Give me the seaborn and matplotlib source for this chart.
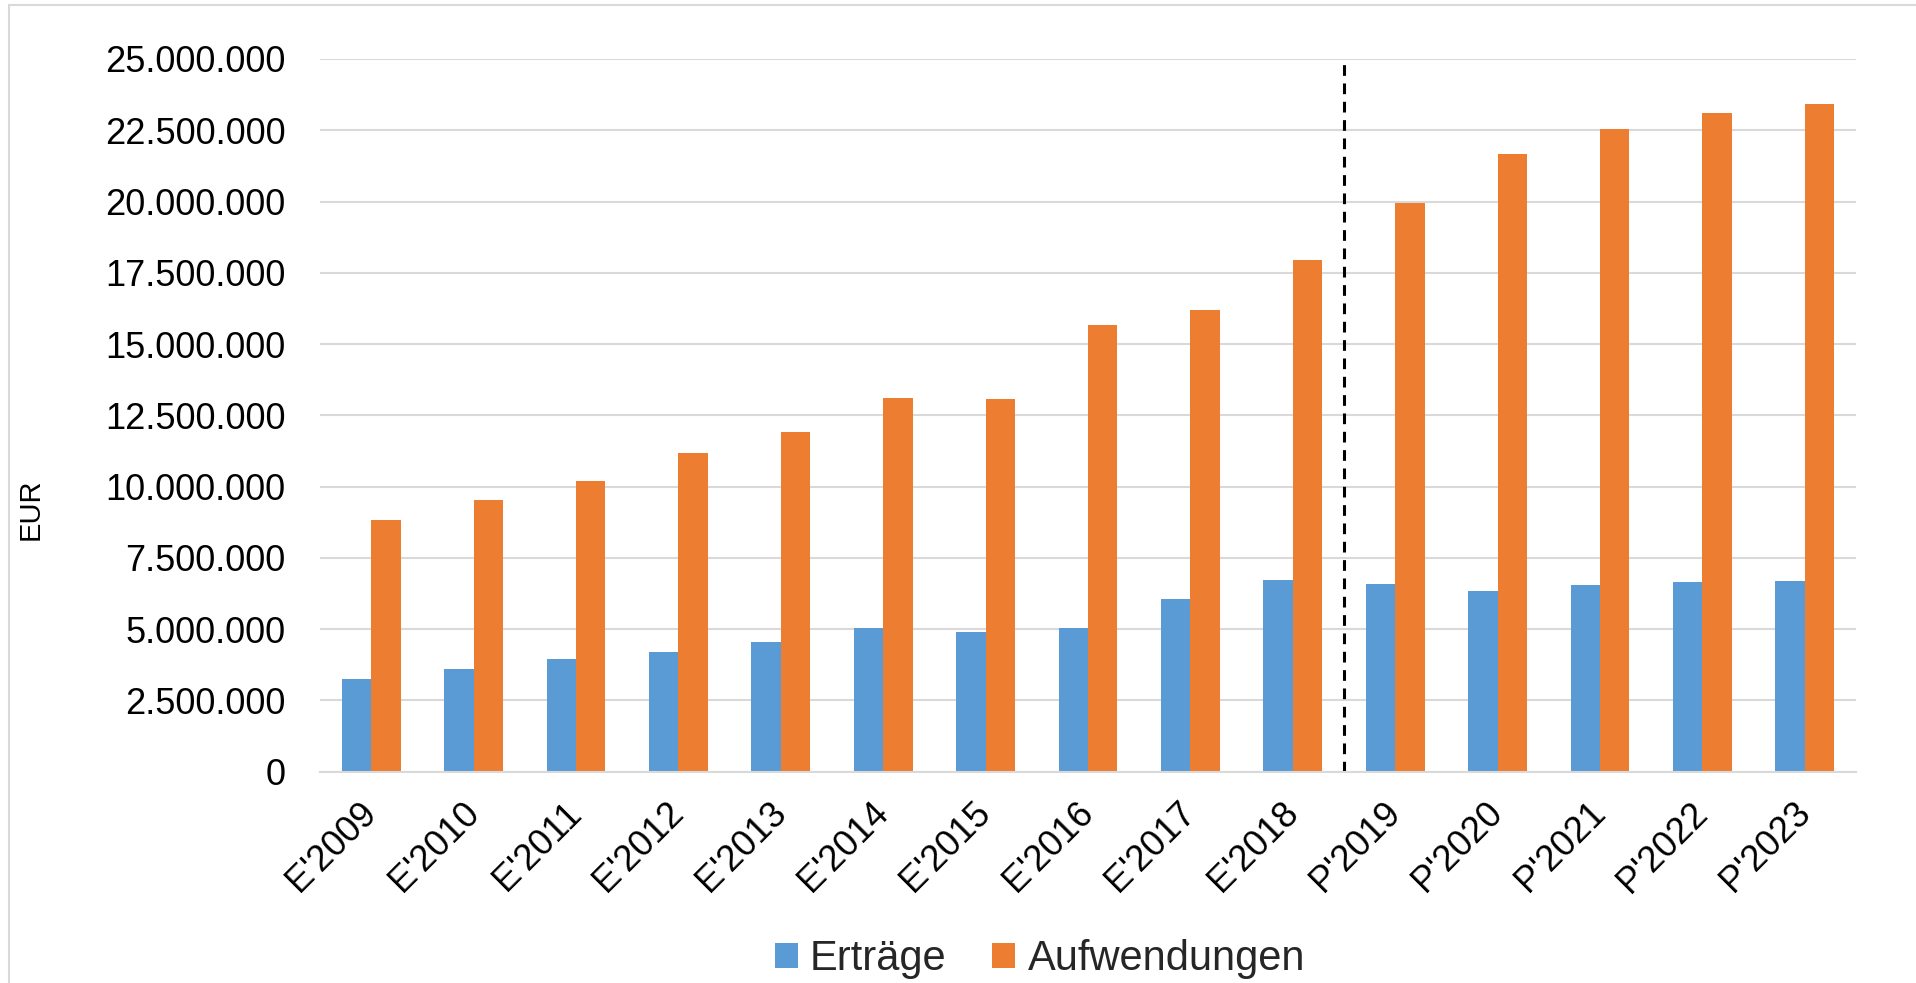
import matplotlib
matplotlib.use("Agg")
import matplotlib.pyplot as plt
from matplotlib.ticker import FuncFormatter
from matplotlib.patches import Patch
from matplotlib.lines import Line2D
import seaborn as sns
import pandas as pd

# Data
years = ["E'2009", "E'2010", "E'2011", "E'2012", "E'2013", "E'2014", "E'2015",
         "E'2016", "E'2017", "E'2018", "P'2019", "P'2020", "P'2021", "P'2022", "P'2023"]
ertraege = [3250000, 3590000, 3940000, 4210000, 4550000, 5030000, 4900000,
            5040000, 6070000, 6730000, 6590000, 6340000, 6540000, 6660000, 6700000]
aufwendungen = [8820000, 9540000, 10180000, 11170000, 11900000, 13100000, 13080000,
                15680000, 16180000, 17940000, 19950000, 21660000, 22540000, 23120000, 23410000]
series_names = ["Erträge", "Aufwendungen"]
colors = ["#5B9BD5", "#ED7D31"]
yticks = [0, 2500000, 5000000, 7500000, 10000000, 12500000,
          15000000, 17500000, 20000000, 22500000, 25000000]

df = pd.DataFrame({
    "Jahr": years * 2,
    "Serie": [series_names[0]] * len(years) + [series_names[1]] * len(years),
    "EUR": ertraege + aufwendungen,
})

sns.set_theme(style="white")
plt.rcParams["font.family"] = ["Liberation Sans", "DejaVu Sans"]

W, H = 1916, 983
fig = plt.figure(figsize=(W / 100, H / 100), dpi=100)
ax = fig.add_axes([320 / W, 1 - 771.7 / H, 1536 / W, 712.7 / H])

sns.barplot(data=df, x="Jahr", y="EUR", hue="Serie", palette=colors,
            width=0.576, gap=0, saturation=1, ax=ax, legend=False,
            edgecolor="none", linewidth=0)

ax.set_ylim(0, 25000000)
ax.set_xlim(-0.5, len(years) - 0.5)
ax.set_yticks(yticks)
ax.yaxis.set_major_formatter(FuncFormatter(lambda v, p: f"{v:,.0f}".replace(",", ".")))
ax.grid(axis="y", color="#D9D9D9", linewidth=1.5)
ax.set_axisbelow(True)
for s in ["top", "right", "left"]:
    ax.spines[s].set_visible(False)
ax.spines["bottom"].set_color("#D9D9D9")
ax.spines["bottom"].set_linewidth(1.5)

ax.tick_params(axis="y", length=0, pad=25, labelsize=26, labelcolor="black")
ax.tick_params(axis="x", length=0, pad=26, labelsize=26, labelcolor="black")
plt.setp(ax.get_xticklabels(), rotation=45, ha="right", va="center",
         rotation_mode="anchor")
ax.set_xlabel("")
ax.set_ylabel("")

# dashed separator between actuals and plan
ax.vlines(9.5, 0, 25000000, colors="black", linestyles=(0, (3.5, 2.5)),
          linewidth=2.2, clip_on=False)

fig.text(31 / W, 1 - 509 / H, "EUR", rotation=90, ha="center", va="center",
         fontsize=21, color="black")

handles = [Patch(facecolor=c, edgecolor="none") for c in colors]
fig.legend(handles, series_names, loc="center", bbox_to_anchor=(1040 / W, 1 - 959 / H),
           ncol=2, frameon=False, fontsize=30, handlelength=0.55, handleheight=0.55,
           handletextpad=0.3, columnspacing=1.1)

# light chart border
fig.add_artist(Line2D([9 / W, 1], [1 - 5 / H, 1 - 5 / H], transform=fig.transFigure,
                      color="#D9D9D9", linewidth=1.5))
fig.add_artist(Line2D([9 / W, 9 / W], [0, 1 - 5 / H], transform=fig.transFigure,
                      color="#D9D9D9", linewidth=1.5))

fig.savefig("out.png", dpi=100, facecolor="white")
